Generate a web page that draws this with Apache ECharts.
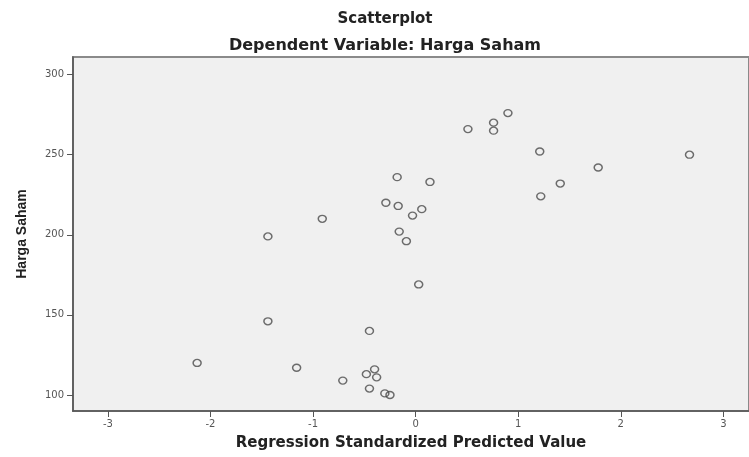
<!DOCTYPE html>
<html>
<head>
<meta charset="utf-8">
<title>Scatterplot</title>
<script src="https://cdn.jsdelivr.net/npm/echarts@6/dist/echarts.min.js"></script>
<style>
  html, body { margin: 0; padding: 0; background: #fff; }
  #chart { width: 749px; height: 457px; }
</style>
</head>
<body>
<div id="chart"></div>
<script>
// regression standardized predicted value (x) and harga saham (y)
const predictedValues = [
  -0.18, 0.14, -0.29, -0.17, 0.06, -0.03, -0.91, -1.44, -0.16, -0.09, 0.03,
  0.90, 0.76, 0.76, 0.51, 1.21, 2.67, 1.78, 1.41, 1.22,
  -1.44, -0.45, -2.13, -1.16, -0.40, -0.48, -0.38, -0.71, -0.45, -0.30, -0.25
]
const hargaSaham = [
  236, 233, 220, 218, 216, 212, 210, 199, 202, 196, 169,
  276, 270, 265, 266, 252, 250, 242, 232, 224,
  146, 140, 120, 117, 116, 113, 111, 109, 104, 101, 100
]
const xTicks = [-3, -2, -1, 0, 1, 2, 3]
const yTicks = [100, 150, 200, 250, 300]

const points = predictedValues.map((x, i) => [x, hargaSaham[i]])

const titleStyle = {
  fontFamily: 'DejaVu Sans',
  fontSize: 16,
  fontWeight: 'bold',
  color: '#222'
}

const chart = echarts.init(document.getElementById('chart'))
chart.setOption({
  animation: false,
  title: [
    {
      text: 'Scatterplot',
      left: 380,
      top: 7,
      textAlign: 'center',
      textStyle: { ...titleStyle, fontSize: 15 }
    },
    {
      text: 'Dependent Variable: Harga Saham',
      left: 380,
      top: 33,
      textAlign: 'center',
      textStyle: titleStyle
    }
  ],
  grid: {
    left: 73,
    right: -2,
    top: 57,
    bottom: 46,
    show: true,
    backgroundColor: '#f0f0f0',
    borderColor: '#8a8a8a',
    borderWidth: 2
  },
  xAxis: {
    type: 'value',
    min: -3.34,
    max: 3.25,
    name: 'Regression Standardized Predicted Value',
    nameLocation: 'middle',
    nameGap: 25,
    nameTextStyle: {
      fontFamily: 'DejaVu Sans',
      fontSize: 15,
      fontWeight: 'bold',
      color: '#222'
    },
    axisLine: { show: true, onZero: false, lineStyle: { color: '#555', width: 1.5 } },
    axisTick: {
      show: true,
      length: 6,
      customValues: xTicks,
      lineStyle: { color: '#555' }
    },
    axisLabel: {
      customValues: xTicks,
      margin: 8,
      fontFamily: 'DejaVu Sans',
      fontSize: 10,
      color: '#555'
    },
    splitLine: { show: false }
  },
  yAxis: {
    type: 'value',
    min: 90,
    max: 311,
    name: 'Harga Saham',
    nameLocation: 'middle',
    nameGap: 44,
    nameTextStyle: {
      fontFamily: 'Liberation Sans',
      fontSize: 14,
      fontWeight: 'bold',
      color: '#222'
    },
    axisLine: { show: true, onZero: false, lineStyle: { color: '#555', width: 1.5 } },
    axisTick: {
      show: true,
      length: 6,
      customValues: yTicks,
      lineStyle: { color: '#555' }
    },
    axisLabel: {
      customValues: yTicks,
      margin: 9,
      fontFamily: 'DejaVu Sans',
      fontSize: 10,
      color: '#555'
    },
    splitLine: { show: false }
  },
  series: [
    {
      type: 'scatter',
      data: points,
      symbol: 'circle',
      symbolSize: [8, 7],
      itemStyle: {
        color: 'rgba(0,0,0,0)',
        borderColor: '#4a4a4a',
        borderWidth: 1.4
      }
    }
  ]
})
</script>
</body>
</html>
